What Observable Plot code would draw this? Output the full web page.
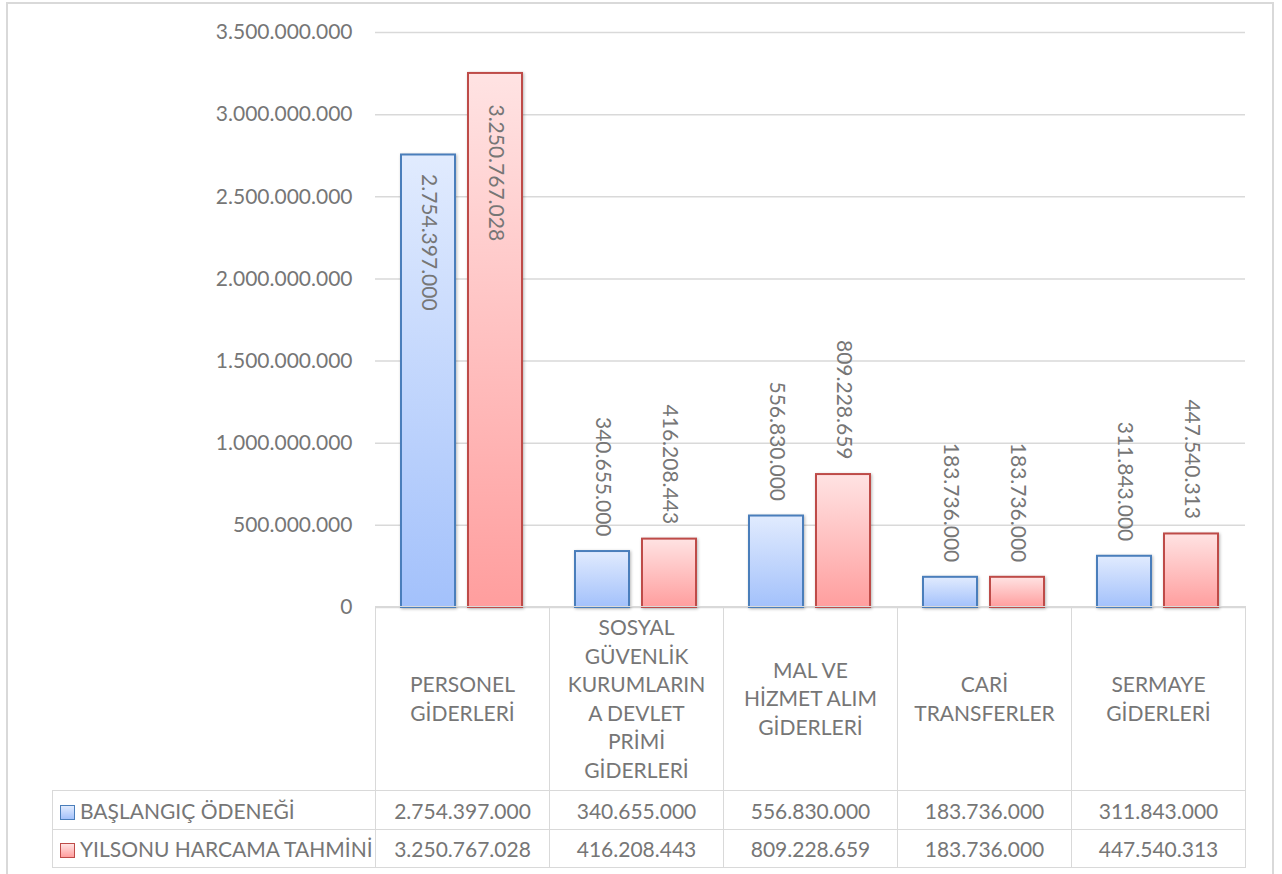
<!DOCTYPE html>
<html><head><meta charset="utf-8">
<script src="https://cdn.jsdelivr.net/npm/d3@7"></script>
<script src="https://cdn.jsdelivr.net/npm/@observablehq/plot@0.6"></script>
<style>
body{margin:0;background:#fff;overflow:hidden;font-family:Lato, "Open Sans", sans-serif;}
#wrap{position:relative;width:1282px;height:874px;overflow:hidden;background:#fff;}
#frame{position:absolute;left:6px;top:2px;width:1268px;height:900px;border:2px solid #d9d9d9;box-sizing:border-box;}
#chart{position:absolute;left:0;top:0;}
#chart g[aria-label="bar"] rect{filter:drop-shadow(1.5px 1px 1.5px rgba(0,0,0,0.28));}
table{position:absolute;left:52px;top:606px;border-collapse:collapse;table-layout:fixed;color:#767676;font-size:21px;font-family:Lato, sans-serif;}
td{border:1.5px solid #d9d9d9;text-align:center;padding:0;white-space:nowrap;}
td.blank{border:none;}
td.head{line-height:28.5px;vertical-align:middle;}
td.leg{text-align:left;padding-left:7px;}
.sw{display:inline-block;width:15px;height:15px;margin-right:5px;vertical-align:-1px;box-sizing:border-box;}
</style>
</head><body>
<div id="wrap"><div id="frame"></div><div id="chart"></div></div>
<script>
const categories = ["PERSONEL GİDERLERİ", "SOSYAL GÜVENLİK KURUMLARINA DEVLET PRİMİ GİDERLERİ", "MAL VE HİZMET ALIM GİDERLERİ", "CARİ TRANSFERLER", "SERMAYE GİDERLERİ"];
const categoryLines = [
  ["PERSONEL", "GİDERLERİ"],
  ["SOSYAL", "GÜVENLİK", "KURUMLARIN", "A DEVLET", "PRİMİ", "GİDERLERİ"],
  ["MAL VE", "HİZMET ALIM", "GİDERLERİ"],
  ["CARİ", "TRANSFERLER"],
  ["SERMAYE", "GİDERLERİ"]
];
const seriesNames = ["BAŞLANGIÇ ÖDENEĞİ", "YILSONU HARCAMA TAHMİNİ"];
const baslangic = [2754397000, 340655000, 556830000, 183736000, 311843000];
const yilsonu = [3250767028, 416208443, 809228659, 183736000, 447540313];
const yTicks = [0, 500000000, 1000000000, 1500000000, 2000000000, 2500000000, 3000000000, 3500000000];

const seriesFill = ["url(#gradBlue)", "url(#gradRed)"];
const seriesStroke = ["#4a7ebb", "#be4b48"];

const fmt = d3.formatLocale({decimal: ",", thousands: ".", grouping: [3], currency: ["", ""]}).format(",d");

const rows = categories.flatMap((c, i) => [
  {category: c, series: seriesNames[0], value: baslangic[i]},
  {category: c, series: seriesNames[1], value: yilsonu[i]}
]);
const bySeries = s => rows.filter(d => d.series === s);
const insideLimit = 2000000000;

const marks = [Plot.ruleY(yTicks, {stroke: "#d9d9d9", strokeWidth: 1.5})];
seriesNames.forEach((s, k) => {
  marks.push(Plot.barY(bySeries(s), {fx: "category", x: "series", y: "value", fill: seriesFill[k], stroke: seriesStroke[k], strokeWidth: 2}));
});
seriesNames.forEach((s, k) => {
  marks.push(Plot.text(bySeries(s).filter(d => d.value > insideLimit), {
    fx: "category", x: "series", y: "value", text: d => fmt(d.value),
    rotate: 90, textAnchor: "start", lineAnchor: "middle", dy: k === 0 ? 19 : 31, fill: "#767676"
  }));
  marks.push(Plot.text(bySeries(s).filter(d => d.value <= insideLimit), {
    fx: "category", x: "series", y: "value", text: d => fmt(d.value),
    rotate: 90, textAnchor: "end", lineAnchor: "middle", dy: -15, fill: "#767676"
  }));
});

const plot = Plot.plot({
  width: 1282, height: 874,
  marginLeft: 375, marginRight: 37, marginTop: 32, marginBottom: 267,
  style: {fontFamily: "Lato, sans-serif", fontSize: "21px", color: "#767676", background: "transparent", overflow: "visible"},
  fx: {domain: categories, padding: 0, axis: null, label: null},
  x: {domain: seriesNames, paddingInner: 0.194, paddingOuter: 0.3955, axis: null},
  y: {domain: [0, 3500000000], ticks: yTicks, tickFormat: fmt, tickSize: 0, tickPadding: 23, label: null},
  marks
});

const ns = "http://www.w3.org/2000/svg";
const defs = document.createElementNS(ns, "defs");
defs.innerHTML = `
<linearGradient id="gradBlue" x1="0" y1="0" x2="0" y2="1"><stop offset="0" stop-color="#e1ebfe"/><stop offset="1" stop-color="#a3c1fb"/></linearGradient>
<linearGradient id="gradRed" x1="0" y1="0" x2="0" y2="1"><stop offset="0" stop-color="#ffe3e3"/><stop offset="1" stop-color="#ff9e9e"/></linearGradient>`;
plot.insertBefore(defs, plot.firstChild);
document.getElementById("chart").appendChild(plot);

// data table under the chart
const table = document.createElement("table");
const colgroup = document.createElement("colgroup");
[323, 174, 174, 174, 174, 174].forEach(w => { const c = document.createElement("col"); c.style.width = w + "px"; colgroup.appendChild(c); });
table.appendChild(colgroup);
const head = document.createElement("tr");
head.style.height = "184px";
const blank = document.createElement("td"); blank.className = "blank"; head.appendChild(blank);
categoryLines.forEach(lines => {
  const td = document.createElement("td"); td.className = "head";
  td.innerHTML = lines.join("<br>");
  head.appendChild(td);
});
table.appendChild(head);
[baslangic, yilsonu].forEach((vals, k) => {
  const tr = document.createElement("tr");
  tr.style.height = k === 0 ? "39px" : "38px";
  const leg = document.createElement("td"); leg.className = "leg";
  const sw = document.createElement("span"); sw.className = "sw";
  sw.style.background = k === 0 ? "linear-gradient(#e1ebfe,#a3c1fb)" : "linear-gradient(#ffe3e3,#ff9e9e)";
  sw.style.border = "1.5px solid " + seriesStroke[k];
  leg.appendChild(sw);
  leg.appendChild(document.createTextNode(seriesNames[k]));
  tr.appendChild(leg);
  vals.forEach(v => { const td = document.createElement("td"); td.textContent = fmt(v); tr.appendChild(td); });
  table.appendChild(tr);
});
document.getElementById("wrap").appendChild(table);
</script>
</body></html>
